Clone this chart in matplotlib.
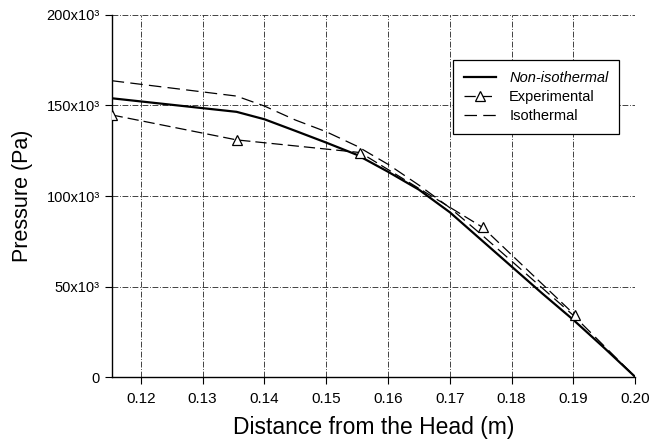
import matplotlib
matplotlib.use("Agg")
import matplotlib.pyplot as plt

plt.rcParams['font.family'] = ['Liberation Sans', 'DejaVu Sans']

# Data (Pa vs m)
x_noniso = [0.1153, 0.1355, 0.14, 0.145, 0.15, 0.155, 0.16, 0.165, 0.17, 0.175, 0.18, 0.185, 0.19, 0.195, 0.20]
p_noniso = [154.0e3, 146.5e3, 142.4e3, 136.0e3, 129.5e3, 122.7e3, 113.4e3, 103.5e3, 91.0e3, 76.0e3, 61.0e3, 46.0e3, 31.5e3, 16.0e3, 0.0]

x_exp = [0.1153, 0.1355, 0.1555, 0.1753, 0.1902]
p_exp = [144.8e3, 131.0e3, 124.0e3, 82.7e3, 34.3e3]

x_iso = [0.1153, 0.1355, 0.14, 0.145, 0.15, 0.155, 0.16, 0.165, 0.17, 0.175, 0.18, 0.185, 0.19, 0.195, 0.20]
p_iso = [163.7e3, 155.2e3, 149.7e3, 142.0e3, 135.5e3, 127.5e3, 117.5e3, 106.0e3, 93.5e3, 79.0e3, 64.0e3, 49.0e3, 34.0e3, 17.0e3, 0.0]

x_ticks = [0.12, 0.13, 0.14, 0.15, 0.16, 0.17, 0.18, 0.19, 0.20]
x_ticklabels = ["0.12", "0.13", "0.14", "0.15", "0.16", "0.17", "0.18", "0.19", "0.20"]
y_ticks = [0, 50e3, 100e3, 150e3, 200e3]
y_ticklabels = ["0", "50x10³", "100x10³", "150x10³", "200x10³"]

fig = plt.figure(figsize=(6.52, 4.45), dpi=100)
ax = fig.add_axes([0.1713, 0.1528, 0.8031, 0.8135])

ax.plot(x_noniso, p_noniso, color='black', lw=1.6, label='Non-isothermal', zorder=3)
ax.plot(x_exp, p_exp, color='black', lw=0.9, dashes=(9, 4), marker='^', markersize=7,
        markerfacecolor='white', markeredgecolor='black', markeredgewidth=0.9,
        label='Experimental', zorder=4)
ax.plot(x_iso, p_iso, color='black', lw=0.9, dashes=(10, 5), label='Isothermal', zorder=3)

ax.set_xlim(0.1153, 0.20)
ax.set_ylim(0, 200e3)
ax.set_xticks(x_ticks)
ax.set_xticklabels(x_ticklabels)
ax.set_yticks(y_ticks)
ax.set_yticklabels(y_ticklabels)
ax.tick_params(axis='both', direction='out', length=5, width=0.8, labelsize=10.5, colors='black')
ax.tick_params(axis='x', pad=6, labelsize=11)

ax.grid(True, color='#222222', linestyle=(0, (7, 2, 1, 2)), linewidth=0.6, zorder=1)
for s in ['top', 'right']:
    ax.spines[s].set_visible(False)
for s in ['left', 'bottom']:
    ax.spines[s].set_linewidth(1.0)
    ax.spines[s].set_color('black')

ax.set_xlabel('Distance from the Head (m)', fontsize=16.5, labelpad=7)
ax.set_ylabel('Pressure (Pa)', fontsize=15.5, labelpad=10)

leg = ax.legend(loc='upper left', bbox_to_anchor=(0.652, 0.876), borderaxespad=0, fontsize=10.5,
                frameon=True, fancybox=False, edgecolor='black', framealpha=1,
                handlelength=2.2, handletextpad=0.9, numpoints=1, borderpad=0.75,
                labelspacing=0.36)
leg.get_frame().set_linewidth(0.9)
leg.get_texts()[0].set_style('italic')

fig.savefig('out.png', dpi=100)
